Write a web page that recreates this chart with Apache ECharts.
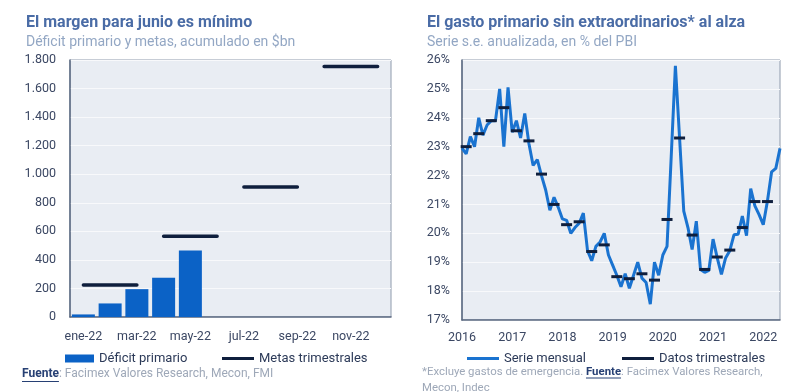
<!DOCTYPE html>
<html><head><meta charset="utf-8">
<script src="https://cdn.jsdelivr.net/npm/echarts@6/dist/echarts.min.js"></script>
<style>html,body{margin:0;padding:0;background:#fff}#c{width:800px;height:392px}</style>
</head><body><div id="c"></div>
<script>
// ---- Left chart data ----
const barCategories = ['ene-22','feb-22','mar-22','abr-22','may-22','jun-22','jul-22','ago-22','sep-22','oct-22','nov-22','dic-22'];
const deficitValues = [18, 95, 195, 275, 465, null, null, null, null, null, null, null];
const metasQuarterValues = [225, 565, 910, 1755];
const leftYTicks = {min: 0, max: 1800, interval: 200};

// ---- Right chart data ----
const years = ['2016','2017','2018','2019','2020','2021','2022'];
const monthly2016 = [22.95, 22.75, 23.35, 23.0, 24.0, 23.4, 23.75, 23.9, 23.9, 25.0, 23.0, 25.05];
const monthly2017 = [23.5, 23.9, 23.3, 24.15, 23.1, 22.35, 22.55, 22.0, 21.5, 20.8, 21.25, 20.9];
const monthly2018 = [20.5, 20.45, 20.0, 20.2, 20.35, 20.7, 19.4, 19.05, 19.55, 19.7, 20.0, 19.25];
const monthly2019 = [18.9, 18.55, 18.15, 18.6, 18.1, 18.55, 19.0, 18.45, 18.3, 17.55, 19.0, 18.55];
const monthly2020 = [19.25, 19.55, 22.65, 25.8, 23.3, 20.77, 20.2, 19.44, 20.42, 18.75, 18.65, 18.72];
const monthly2021 = [19.8, 19.15, 18.58, 19.15, 19.4, 19.95, 19.97, 20.6, 19.92, 21.55, 20.95, 20.65];
const monthly2022 = [20.3, 21.12, 22.13, 22.25, 22.94];
const quarterlyValues = [23.0, 23.45, 23.9, 24.35, 23.55, 23.2, 22.05, 21.0, 20.3, 20.4, 19.37, 19.6,
  18.5, 18.43, 18.6, 18.38, 20.48, 23.3, 19.94, 18.75, 19.18, 19.42, 20.2, 21.1, 21.1];
const rightYTicks = {min: 17, max: 26, interval: 1};

// ---- build ----
const monthlyValues = [].concat(monthly2016, monthly2017, monthly2018, monthly2019, monthly2020, monthly2021, monthly2022);
const monthCats = monthlyValues.map((_, i) => years[Math.floor(i / 12)] + '-' + String(i % 12 + 1).padStart(2, '0'));
const quarterlySeriesData = monthlyValues.map(() => null);
quarterlyValues.forEach((v, q) => { quarterlySeriesData[q * 3 + 1] = v; });

const metasSeries = metasQuarterValues.map((v, q) => ({
  name: 'Metas trimestrales', type: 'line', xAxisIndex: 0, yAxisIndex: 0,
  data: barCategories.map((_, i) => (Math.floor(i / 3) === q ? v : null)),
  symbol: 'none', lineStyle: {color: '#0f1f3d', width: 3.5, cap: 'round'}, itemStyle: {color: '#0f1f3d'},
  z: 5
}));

const axisLabelColor = '#3b4763';
const titleColor = '#4a6ca6';
const subColor = '#93a7c4';
const fnColor = '#9ea8b8';
const fnSizeL = 12;
const fnSizeR = 11.4;

// text measuring for underlines
const mctx = document.createElement('canvas').getContext('2d');
function tw(txt, bold, size) { mctx.font = (bold ? 'bold ' : '') + size + 'px Roboto'; return mctx.measureText(txt).width; }
const leftFuenteW = tw('Fuente', true, fnSizeL);
const rightPre = tw('*Excluye gastos de emergencia. ', false, fnSizeR);
const rightFuenteW = tw('Fuente', true, fnSizeR);

const chart = echarts.init(document.getElementById('c'), null, {renderer: 'canvas'});
chart.setOption({
  animation: false,
  backgroundColor: '#ffffff',
  textStyle: {fontFamily: 'Roboto'},
  title: [
    {text: 'El margen para junio es mínimo', subtext: 'Déficit primario y metas, acumulado en $bn',
     left: 21, top: 10, itemGap: 4,
     textStyle: {fontFamily: 'Roboto', fontSize: 16, fontWeight: 'bold', color: titleColor},
     subtextStyle: {fontFamily: 'Roboto', fontSize: 14, color: subColor}},
    {text: 'El gasto primario sin extraordinarios* al alza', subtext: 'Serie s.e. anualizada, en % del PBI',
     left: 422, top: 10, itemGap: 4,
     textStyle: {fontFamily: 'Roboto', fontSize: 16, fontWeight: 'bold', color: titleColor},
     subtextStyle: {fontFamily: 'Roboto', fontSize: 14, color: subColor}}
  ],
  legend: [
    {data: [{name: 'Déficit primario', icon: 'rect'}], left: 60, top: 347, itemWidth: 29, itemHeight: 8, selectedMode: false,
     textStyle: {color: '#2c3a58', fontSize: 13, fontFamily: 'Roboto'}},
    {data: [{name: 'Metas trimestrales', icon: 'rect', itemStyle: {color: '#0f1f3d', opacity: 1}}], left: 217, top: 347, itemWidth: 32, itemHeight: 3, selectedMode: false,
     textStyle: {color: '#2c3a58', fontSize: 13, fontFamily: 'Roboto'}},
    {data: [{name: 'Serie mensual', icon: 'rect', itemStyle: {color: '#1a73d0', opacity: 1}}], left: 462, top: 347, itemWidth: 32, itemHeight: 3, selectedMode: false,
     textStyle: {color: '#2c3a58', fontSize: 13, fontFamily: 'Roboto'}},
    {data: [{name: 'Datos trimestrales', icon: 'rect', itemStyle: {color: '#0f1f3d', opacity: 1}}], left: 617, top: 347, itemWidth: 32, itemHeight: 3, selectedMode: false,
     textStyle: {color: '#2c3a58', fontSize: 13, fontFamily: 'Roboto'}}
  ],
  grid: [
    {left: 70, right: 409, top: 60, bottom: 75, show: true, backgroundColor: '#e9edf3', borderColor: '#8e9aac', borderWidth: 1},
    {left: 462, right: 20, top: 60, bottom: 72, show: true, backgroundColor: '#e9edf3', borderColor: '#8e9aac', borderWidth: 1}
  ],
  xAxis: [
    {type: 'category', gridIndex: 0, data: barCategories, boundaryGap: true,
     axisLine: {lineStyle: {color: '#5a6880', width: 1.5}}, axisTick: {show: false},
     axisLabel: {interval: 1, color: axisLabelColor, fontSize: 12.5, margin: 13}},
    {type: 'category', gridIndex: 1, data: monthCats, boundaryGap: false,
     axisLine: {lineStyle: {color: '#5a6880', width: 1.5}}, axisTick: {show: false},
     axisLabel: {interval: (i) => i % 12 === 0, formatter: (v) => v.slice(0, 4), color: axisLabelColor, fontSize: 12.5, margin: 11}}
  ],
  yAxis: [
    {type: 'value', gridIndex: 0, min: leftYTicks.min, max: leftYTicks.max, interval: leftYTicks.interval,
     axisLine: {show: true, lineStyle: {color: '#5a6880', width: 1.5}}, axisTick: {show: false},
     splitLine: {lineStyle: {color: '#f8f9fb', width: 1}},
     axisLabel: {color: axisLabelColor, fontSize: 12.5, margin: 14,
       formatter: (v) => String(v).replace(/\B(?=(\d{3})+(?!\d))/g, '.')}},
    {type: 'value', gridIndex: 1, min: rightYTicks.min, max: rightYTicks.max, interval: rightYTicks.interval,
     axisLine: {show: true, lineStyle: {color: '#5a6880', width: 1.5}}, axisTick: {show: false},
     splitLine: {lineStyle: {color: '#f8f9fb', width: 1}},
     axisLabel: {color: axisLabelColor, fontSize: 12.5, margin: 12, formatter: (v) => v + '%'}}
  ],
  series: [
    {name: 'Déficit primario', type: 'bar', xAxisIndex: 0, yAxisIndex: 0, data: deficitValues,
     barCategoryGap: '14%', itemStyle: {color: '#0b62c6'}, z: 3},
    ...metasSeries,
    {name: 'Serie mensual', type: 'line', xAxisIndex: 1, yAxisIndex: 1, data: monthlyValues,
     symbol: 'none', lineStyle: {color: '#1a73d0', width: 3}, itemStyle: {color: '#1a73d0'}, z: 3},
    {name: 'Datos trimestrales', type: 'scatter', xAxisIndex: 1, yAxisIndex: 1, data: quarterlySeriesData,
     symbol: 'rect', symbolSize: [11, 3], itemStyle: {color: '#0f1f3d', opacity: 1}, z: 5}
  ],
  graphic: [
    {type: 'text', left: 22, top: 368, style: {
      text: '{a|Fuente}{b|: Facimex Valores Research, Mecon, FMI}',
      rich: {a: {fontFamily: 'Roboto', fontSize: fnSizeL, fontWeight: 'bold', fill: '#274074'},
             b: {fontFamily: 'Roboto', fontSize: fnSizeL, fill: fnColor}}}},
    {type: 'line', shape: {x1: 22, y1: 381.5, x2: 22 + leftFuenteW, y2: 381.5}, style: {stroke: '#274074', lineWidth: 1}},
    {type: 'text', left: 422, top: 364, style: {
      text: '{b|*Excluye gastos de emergencia. }{a|Fuente}{b|: Facimex Valores Research,}\n{b|Mecon, Indec}',
      lineHeight: 16,
      rich: {a: {fontFamily: 'Roboto', fontSize: fnSizeR, fontWeight: 'bold', fill: '#274074', lineHeight: 16},
             b: {fontFamily: 'Roboto', fontSize: fnSizeR, fill: fnColor, lineHeight: 16}}}},
    {type: 'line', shape: {x1: 422 + rightPre, y1: 378, x2: 422 + rightPre + rightFuenteW, y2: 378}, style: {stroke: '#274074', lineWidth: 1}}
  ]
});
</script>
</body></html>
